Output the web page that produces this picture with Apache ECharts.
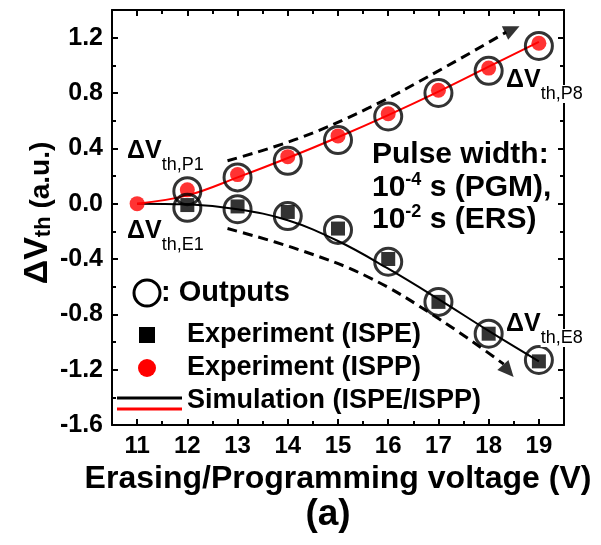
<!DOCTYPE html>
<html>
<head>
<meta charset="utf-8">
<script src="https://cdn.jsdelivr.net/npm/echarts@6/dist/echarts.min.js"></script>
<style>
html,body{margin:0;padding:0;background:#fff;}
#chart{width:601px;height:545px;}
</style>
</head>
<body>
<div id="chart"></div>
<script>
// ---- data ----
const voltages = [11, 12, 13, 14, 15, 16, 17, 18, 19];
const outVoltages = [12, 13, 14, 15, 16, 17, 18, 19];
const isppExp = [0.00, 0.10, 0.21, 0.34, 0.49, 0.65, 0.82, 0.98, 1.16];
const ispeExp = [null, -0.01, -0.02, -0.06, -0.18, -0.40, -0.71, -0.94, -1.14];
const outputsP = [0.09, 0.19, 0.31, 0.46, 0.63, 0.80, 0.96, 1.14];
const outputsE = [-0.03, -0.04, -0.09, -0.19, -0.42, -0.71, -0.94, -1.13];
const simP = [0.00, 0.06, 0.19, 0.33, 0.48, 0.64, 0.81, 0.99, 1.17];
const simE = [0.00, -0.005, -0.04, -0.12, -0.27, -0.47, -0.69, -0.92, -1.14];
const trendUpX = [12.8, 14.2, 15.6, 17.0, 18.35];
const trendUpY = [0.31, 0.47, 0.69, 0.96, 1.24];
const trendDownX = [12.8, 14.2, 15.6, 17.0, 18.3];
const trendDownY = [-0.18, -0.33, -0.53, -0.83, -1.16];
const arrowHeads = [[18.47, 1.258, -65], [18.39, -1.21, -138]];
const xTicks = [11, 12, 13, 14, 15, 16, 17, 18, 19];
const xMinorTicks = [11.5, 12.5, 13.5, 14.5, 15.5, 16.5, 17.5, 18.5];
const yTicks = [-1.6, -1.2, -0.8, -0.4, 0, 0.4, 0.8, 1.2];
const yMinorTicks = [-1.4, -1.0, -0.6, -0.2, 0.2, 0.6, 1.0];

const FONT = '"Liberation Sans", Arial, sans-serif';
const pair = (xs, ys) => xs.map((x, i) => [x, ys[i]]);

const chart = echarts.init(document.getElementById('chart'), null, {renderer: 'canvas'});

function xAx(pos, values, len, line, labels, extra) {
  return Object.assign({
    type: 'value', min: 10.5, max: 19.5, position: pos, gridIndex: 0,
    axisLine: {show: line, onZero: false, lineStyle: {color: '#000', width: 2}},
    axisTick: {show: true, inside: true, length: len, customValues: values, lineStyle: {color: '#000', width: 2}},
    axisLabel: labels ? {show: true, customValues: xTicks, color: '#000', fontSize: 24, fontWeight: 'bold', fontFamily: FONT, margin: 9} : {show: false},
    splitLine: {show: false}
  }, extra || {});
}
function yAx(pos, values, len, line, labels) {
  return {
    type: 'value', min: -1.6, max: 1.4, position: pos, gridIndex: 0,
    axisLine: {show: line, onZero: false, lineStyle: {color: '#000', width: 2}},
    axisTick: {show: true, inside: true, length: len, customValues: values, lineStyle: {color: '#000', width: 2}},
    axisLabel: labels ? {show: true, customValues: yTicks, color: '#000', fontSize: 25, fontWeight: 'bold', fontFamily: FONT, margin: 9,
      formatter: v => v.toFixed(1)} : {show: false},
    splitLine: {show: false}
  };
}

const annoRich = {
  m: {fontSize: 25, fontWeight: 'bold', fontFamily: FONT, color: '#000', lineHeight: 46, verticalAlign: 'middle'},
  s: {fontSize: 18, fontFamily: FONT, color: '#000', lineHeight: 18, verticalAlign: 'bottom'},
  sw: {fontSize: 18, fontFamily: FONT, color: '#000', lineHeight: 18, verticalAlign: 'bottom', backgroundColor: '#fff'}
};
const pwRich = {
  b: {fontSize: 30, fontWeight: 'bold', fontFamily: FONT, color: '#000', lineHeight: 34, verticalAlign: 'middle'},
  sup: {fontSize: 18, fontWeight: 'bold', fontFamily: FONT, color: '#000', lineHeight: 18, verticalAlign: 'top'}
};
function txt(x, y, text, rich, extra) {
  return Object.assign({
    type: 'text', x: x, y: y, z: 100,
    style: {text: text, rich: rich, align: 'left', verticalAlign: 'middle', textAlign: 'left', textVerticalAlign: 'middle'}
  }, extra || {});
}
const legFont = {fontSize: 27, fontWeight: 'bold', fontFamily: FONT, color: '#000'};

const option = {
  animation: false,
  backgroundColor: '#fff',
  grid: {left: 112, right: 37, top: 10, bottom: 120, containLabel: false},
  xAxis: [
    xAx('bottom', xTicks, 6, true, true, {
      name: 'Erasing/Programming voltage (V)', nameLocation: 'middle', nameGap: 37,
      nameTextStyle: {color: '#000', fontSize: 32, fontWeight: 'bold', fontFamily: FONT}
    }),
    xAx('bottom', xMinorTicks, 4, false, false),
    xAx('top', xTicks, 6, true, false),
    xAx('top', xMinorTicks, 4, false, false)
  ],
  yAxis: [
    yAx('left', yTicks, 6, true, true),
    yAx('left', yMinorTicks, 4, false, false),
    yAx('right', yTicks, 6, true, false),
    yAx('right', yMinorTicks, 4, false, false)
  ],
  series: [
    {name: 'Simulation (ISPE)', type: 'line', data: pair(voltages, simE), smooth: 0.4, symbol: 'none',
      lineStyle: {color: '#000', width: 2}, z: 2},
    {name: 'Simulation (ISPP)', type: 'line', data: pair(voltages, simP), smooth: 0.4, symbol: 'none',
      lineStyle: {color: '#ff0000', width: 2}, z: 2},
    {name: 'Trend up', type: 'line', data: pair(trendUpX, trendUpY), smooth: 0.4, symbol: 'none',
      lineStyle: {color: '#000', width: 3, type: [10, 6]}, z: 2},
    {name: 'Trend down', type: 'line', data: pair(trendDownX, trendDownY), smooth: 0.4, symbol: 'none',
      lineStyle: {color: '#000', width: 3, type: [10, 6]}, z: 2},
    {name: 'Arrows', type: 'scatter', symbol: 'triangle', symbolSize: [15, 16],
      data: arrowHeads.map(a => ({value: [a[0], a[1]], symbolRotate: a[2]})),
      itemStyle: {color: '#000'}, z: 3},
    {name: 'Experiment (ISPE)', type: 'scatter', symbol: 'rect', symbolSize: 14,
      data: pair(voltages, ispeExp).filter(p => p[1] !== null), itemStyle: {color: '#000'}, z: 4},
    {name: 'Experiment (ISPP)', type: 'scatter', symbol: 'circle', symbolSize: 15,
      data: pair(voltages, isppExp), itemStyle: {color: '#ff0000'}, z: 5},
    {name: 'Outputs', type: 'scatter', symbol: 'circle', symbolSize: 27,
      data: pair(outVoltages, outputsP).concat(pair(outVoltages, outputsE)),
      itemStyle: {color: 'rgba(0,0,0,0)', borderColor: '#000', borderWidth: 3}, z: 6}
  ],
  graphic: [
    {type: 'text', x: 35, y: 213, rotation: Math.PI / 2, z: 100,
      style: {text: '{a|ΔV}{s|th}{c| (a.u.)}', align: 'center', verticalAlign: 'middle', textAlign: 'center', textVerticalAlign: 'middle',
        rich: {
          a: {fontSize: 34, fontWeight: 'bold', fontFamily: FONT, color: '#000', lineHeight: 40, verticalAlign: 'bottom'},
          s: {fontSize: 22, fontWeight: 'bold', fontFamily: FONT, color: '#000', lineHeight: 19, verticalAlign: 'bottom'},
          c: {fontSize: 28, fontWeight: 'bold', fontFamily: FONT, color: '#000', lineHeight: 36, verticalAlign: 'bottom'}
        }}},
    txt(127, 151, '{m|ΔV}{s|th,P1}', annoRich),
    txt(127, 231, '{m|ΔV}{s|th,E1}', annoRich),
    txt(506, 80, '{m|ΔV}{sw|th,P8}', annoRich),
    txt(506, 324, '{m|ΔV}{sw|th,E8}', annoRich),
    txt(372, 155, '{b|Pulse width:}', pwRich),
    txt(372, 188, '{b|10}{sup|-4}{b| s (PGM),}', pwRich),
    txt(372, 220, '{b|10}{sup|-2}{b| s (ERS)}', pwRich),
    {type: 'circle', shape: {cx: 147, cy: 293, r: 13}, style: {fill: 'none', stroke: '#000', lineWidth: 3}, z: 100},
    {type: 'text', x: 161, y: 293, z: 100, style: Object.assign({text: ': Outputs', verticalAlign: 'middle', textVerticalAlign: 'middle'}, legFont, {fontSize: 29})},
    {type: 'rect', shape: {x: 139, y: 327, width: 16, height: 16}, style: {fill: '#000'}, z: 100},
    {type: 'text', x: 187, y: 335, z: 100, style: Object.assign({text: 'Experiment (ISPE)', verticalAlign: 'middle', textVerticalAlign: 'middle'}, legFont)},
    {type: 'circle', shape: {cx: 147, cy: 368, r: 9}, style: {fill: '#ff0000'}, z: 100},
    {type: 'text', x: 187, y: 368, z: 100, style: Object.assign({text: 'Experiment (ISPP)', verticalAlign: 'middle', textVerticalAlign: 'middle'}, legFont)},
    {type: 'line', shape: {x1: 117, y1: 398, x2: 182, y2: 398}, style: {stroke: '#000', lineWidth: 3}, z: 100},
    {type: 'line', shape: {x1: 117, y1: 409, x2: 182, y2: 409}, style: {stroke: '#ff0000', lineWidth: 3}, z: 100},
    {type: 'text', x: 187, y: 401, z: 100, style: Object.assign({text: 'Simulation (ISPE/ISPP)', verticalAlign: 'middle', textVerticalAlign: 'middle'}, legFont)},
    {type: 'text', x: 328, y: 515, z: 100, style: {text: '(a)', align: 'center', verticalAlign: 'middle', textAlign: 'center', textVerticalAlign: 'middle',
      fontSize: 37, fontWeight: 'bold', fontFamily: FONT, fill: '#000'}}
  ]
};
chart.setOption(option);
</script>
</body>
</html>
